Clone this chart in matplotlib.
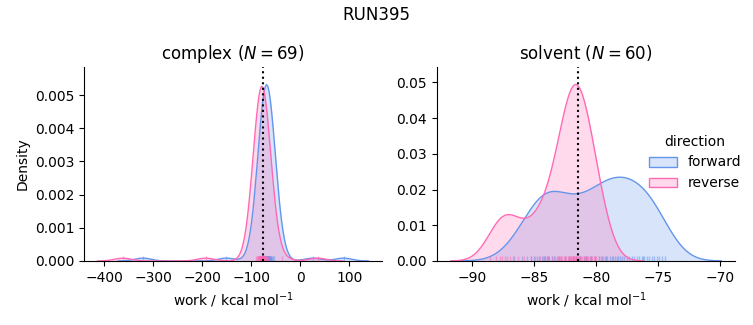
import matplotlib
matplotlib.use('Agg')
import matplotlib.pyplot as plt
from matplotlib.patches import Patch
import numpy as np

# work values (kcal/mol)
complex_forward = [-82.0, -80.0, -78.5, -77.5, -76.5, -75.8, -75.2, -74.6, -74.1, -73.6,
                   -73.2, -72.8, -72.4, -72.1, -71.8, -71.5, -71.2, -70.9, -70.6, -70.4,
                   -70.2, -70.0, -69.8, -69.6, -69.4, -69.2, -69.0, -68.8, -68.6, -68.4,
                   -68.2, -68.0, -67.7, -67.4, -67.1, -66.8, -66.5, -66.2, -65.9, -65.5,
                   -65.1, -64.7, -64.2, -63.7, -63.2, -62.6, -62.0, -61.2, -60.3, -59.0,
                   -57.5, -56.0, -54.0, -70.1, -69.9, -70.3, -69.7, -71.0, -69.5, -70.7,
                   -68.9, -71.3, -68.5, -67.9, -66.0, -321.0, -151.0, 25.0, 88.0]
complex_reverse = [-90.0, -88.0, -87.0, -86.0, -85.5, -85.0, -84.5, -84.0, -83.6, -83.2,
                   -82.8, -82.4, -82.1, -81.8, -81.5, -81.2, -80.9, -80.6, -80.4, -80.2,
                   -80.0, -79.8, -79.6, -79.4, -79.2, -79.0, -78.8, -78.6, -78.4, -78.2,
                   -78.0, -77.8, -77.6, -77.4, -77.2, -77.0, -76.7, -76.4, -76.1, -75.8,
                   -75.5, -75.2, -74.8, -74.4, -74.0, -73.5, -73.0, -72.4, -71.8, -71.0,
                   -70.0, -69.0, -67.5, -66.0, -64.0, -38.0, -79.1, -78.9, -79.5, -78.5,
                   -80.1, -77.9, -79.7, -78.3, -81.0, -76.9, -362.0, -193.0, 35.0]
solvent_forward = [-86.6, -86.0, -85.6, -85.3, -85.0, -84.8, -84.6, -84.4, -84.2, -84.0,
                   -83.8, -83.6, -83.4, -83.2, -83.0, -82.8, -82.5, -82.2, -81.9, -81.6,
                   -81.3, -81.0, -80.7, -80.4, -80.1, -79.8, -79.5, -79.3, -79.1, -78.9,
                   -78.7, -78.5, -78.3, -78.1, -77.9, -77.7, -77.5, -77.3, -77.1, -76.9,
                   -76.7, -76.5, -76.3, -76.1, -75.9, -75.7, -75.5, -75.3, -75.1, -74.9,
                   -74.7, -74.4, -78.6, -79.2, -80.5, -84.1, -83.9, -76.2, -78.2, -80.8]
solvent_reverse = [-88.6, -88.1, -87.8, -87.6, -87.4, -87.2, -87.0, -86.7, -86.3,
                   -85.8, -85.3, -84.9, -84.5, -84.1,
                   -84.3, -83.9, -83.6, -83.35, -83.1, -82.9, -82.75, -82.6, -82.45, -82.3,
                   -82.2, -82.1, -82.0, -81.95, -81.9, -81.85, -81.8, -81.75, -81.7, -81.65,
                   -81.6, -81.55, -81.5, -81.4, -81.3, -81.2, -81.1, -81.0, -80.9, -80.8,
                   -80.65, -80.5, -80.35, -80.2, -80.0, -79.8, -79.6, -79.4, -82.5, -82.15,
                   -83.0, -80.4, -80.85, -81.35, -82.05, -80.1]

# free energy estimates (dotted lines)
dg_complex = -77.0
dg_solvent = -81.5

phases = ['complex', 'solvent']
counts = [69, 60]
directions = ['forward', 'reverse']
colors = {'forward': 'cornflowerblue', 'reverse': 'hotpink'}
data = {('complex', 'forward'): complex_forward, ('complex', 'reverse'): complex_reverse,
        ('solvent', 'forward'): solvent_forward, ('solvent', 'reverse'): solvent_reverse}
dgs = {'complex': dg_complex, 'solvent': dg_solvent}

norm = 0.25


def kde(x, n_grid=200, cut=3):
    x = np.asarray(x)
    bw = x.std(ddof=1) * len(x) ** (-1 / 5)
    grid = np.linspace(x.min() - cut * bw, x.max() + cut * bw, n_grid)
    z = (grid[:, None] - x[None, :]) / bw
    dens = np.exp(-0.5 * z ** 2).sum(1) / (len(x) * bw * np.sqrt(2 * np.pi))
    return grid, norm * dens


fig = plt.figure(figsize=(7.53, 3.25), dpi=100)
axes = [fig.add_axes([0.1116, 0.197, 0.3957, 0.597]),
        fig.add_axes([0.5803, 0.197, 0.3957, 0.597])]

for ax, phase, n in zip(axes, phases, counts):
    ymax = 0
    for d in directions:
        g, y = kde(data[(phase, d)])
        ax.fill_between(g, y, color=colors[d], alpha=0.25, lw=0)
        ax.plot(g, y, color=colors[d], lw=1)
        ymax = max(ymax, y.max())
        ax.vlines(data[(phase, d)], 0, 0.025, transform=ax.get_xaxis_transform(),
                  color=colors[d], alpha=0.5, lw=1)
    ax.axvline(dgs[phase], color='k', ls=':', lw=1.5)
    ax.set_ylim(0, ymax * 1.1)
    ax.set_title(f'{phase} ($N={n}$)', fontsize=12)
    ax.set_xlabel(r'work / kcal mol$^{-1}$')
    for s in ['top', 'right']:
        ax.spines[s].set_visible(False)

axes[0].set_ylabel('Density')
axes[0].set_xticks([-400, -300, -200, -100, 0, 100])
axes[0].yaxis.set_major_formatter(matplotlib.ticker.FormatStrFormatter('%.3f'))
axes[1].set_xticks([-90, -85, -80, -75, -70])
axes[1].yaxis.set_major_formatter(matplotlib.ticker.FormatStrFormatter('%.2f'))

handles = [Patch(facecolor=matplotlib.colors.to_rgba(colors[d], 0.25), edgecolor=colors[d], lw=1)
           for d in directions]
fig.legend(handles, directions, title='direction', loc='center left',
           bbox_to_anchor=(0.845, 0.50), frameon=False)

fig.suptitle('RUN395', fontsize=12)
fig.savefig('out.png', dpi=100)
